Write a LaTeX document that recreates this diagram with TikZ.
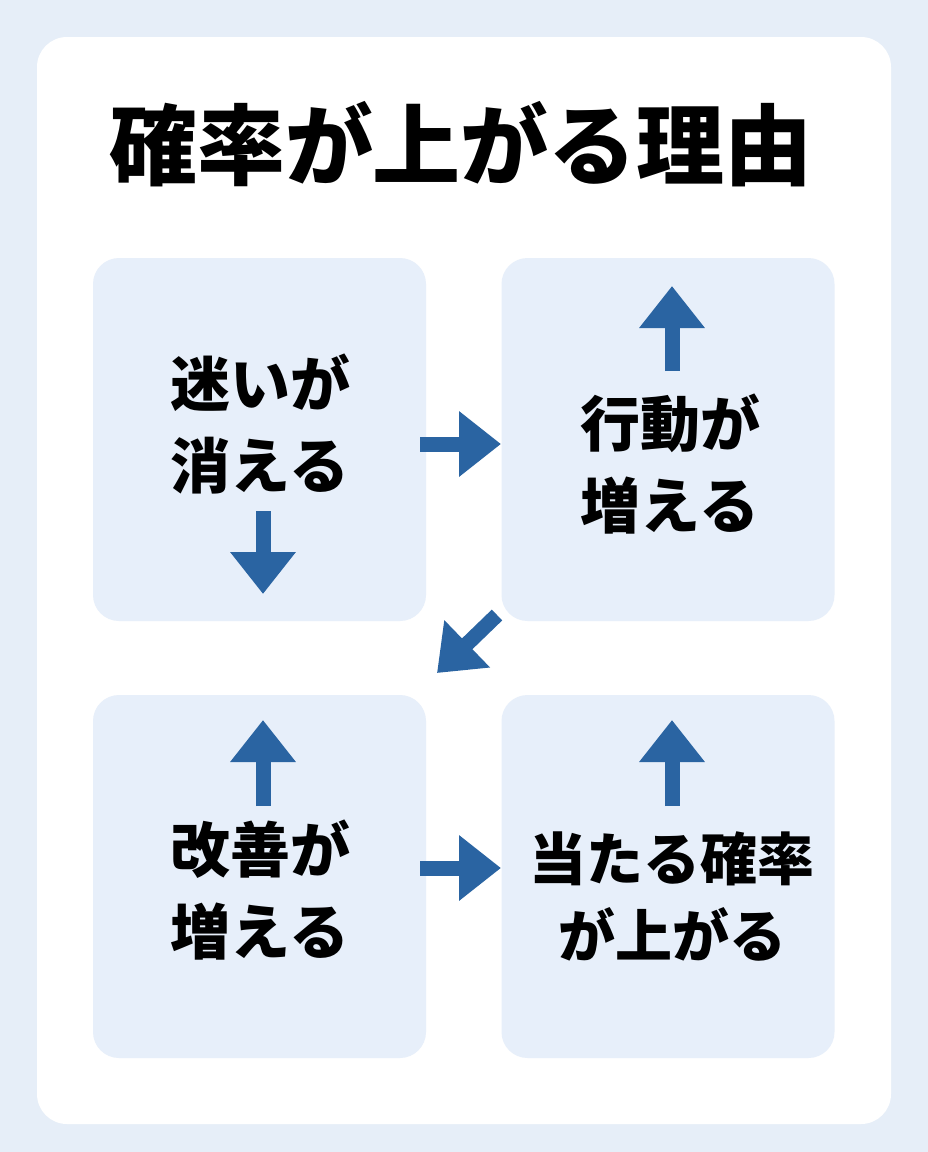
\documentclass[tikz,border=0pt]{standalone}
\usepackage{fontspec}
\newfontfamily\jpfont{Noto Sans CJK JP}
\usetikzlibrary{arrows.meta}
\definecolor{pagebg}{HTML}{E6EEF8}
\definecolor{cellbg}{HTML}{E7EFFA}
\definecolor{arrowblue}{HTML}{2A64A2}
\tikzstyle{cell}=[rectangle, fill=cellbg, rounded corners=26pt, minimum width=333pt, minimum height=363pt, inner sep=0pt]
\tikzstyle{celltext}=[align=center, inner sep=0pt, font=\jpfont\bfseries\fontsize{60}{82}\selectfont]
\tikzstyle{flow}=[draw=arrowblue, line width=15pt, -{Triangle[length=42pt,width=63pt]}]

\begin{document}
\begin{tikzpicture}[x=1pt, y=-1pt]
		\fill[pagebg] (0,0) rectangle (928,1152);
		\fill[white, rounded corners=30pt] (37,37) rectangle (891,1124);
		\node (title) at (461,144) [inner sep=0pt, font=\jpfont\bfseries\fontsize{88}{88}\selectfont] {確率が上がる理由};
		
		\node (cell1) at (259.5,439.5) [cell] {};
		\node (cell2) at (668,439.5) [cell] {};
		\node (cell3) at (259.5,876.5) [cell] {};
		\node (cell4) at (668,876.5) [cell] {};
		
		\node (txt1) at (260,424) [celltext] {迷いが\\消える};
		\node (txt2) at (670,464) [celltext] {行動が\\増える};
		\node (txt3) at (260,890) [celltext] {改善が\\増える};
		\node (txt4) at (672,896) [celltext, font=\jpfont\bfseries\fontsize{57}{77}\selectfont] {当たる確率\\が上がる};
		
		\coordinate (a1s) at (420,444);  \coordinate (a1e) at (501,444);
		\coordinate (a2s) at (263,511);  \coordinate (a2e) at (263,594);
		\coordinate (a3s) at (672,371);  \coordinate (a3e) at (672,286);
		\coordinate (a4s) at (497,615);  \coordinate (a4e) at (437,673);
		\coordinate (a5s) at (263,806);  \coordinate (a5e) at (263,720);
		\coordinate (a6s) at (420,868);  \coordinate (a6e) at (501,868);
		\coordinate (a7s) at (672,806);  \coordinate (a7e) at (672,720);
		
		\draw[flow] (a1s) -- (a1e);
		\draw[flow] (a2s) -- (a2e);
		\draw[flow] (a3s) -- (a3e);
		\draw[flow] (a4s) -- (a4e);
		\draw[flow] (a5s) -- (a5e);
		\draw[flow] (a6s) -- (a6e);
		\draw[flow] (a7s) -- (a7e);
		
\end{tikzpicture}
\end{document}
